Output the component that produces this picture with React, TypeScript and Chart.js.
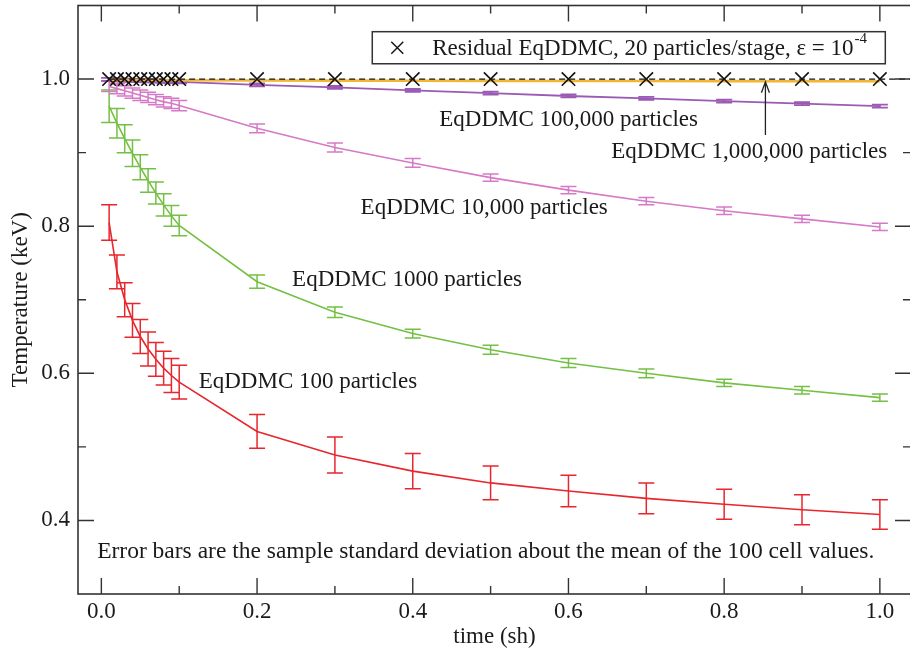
import React, { useEffect, useRef } from "react";
import { Chart, registerables } from "chart.js";

Chart.register(...registerables);

// ---- data ----
const times = [0.01, 0.02, 0.03, 0.04, 0.05, 0.06, 0.07, 0.08, 0.09, 0.1, 0.2, 0.3, 0.4, 0.5, 0.6, 0.7, 0.8, 0.9, 1.0];

const temp100 = [0.805, 0.738, 0.700, 0.672, 0.650, 0.633, 0.619, 0.607, 0.597, 0.588, 0.521, 0.489, 0.467, 0.451, 0.440, 0.430, 0.422, 0.4145, 0.408];
const err100 = [0.024, 0.023, 0.023, 0.023, 0.023, 0.023, 0.023, 0.023, 0.023, 0.023, 0.023, 0.0245, 0.024, 0.023, 0.0215, 0.021, 0.0205, 0.0205, 0.020];

const temp1000 = [0.963, 0.940, 0.919, 0.899, 0.880, 0.862, 0.845, 0.829, 0.814, 0.801, 0.7245, 0.683, 0.654, 0.632, 0.614, 0.600, 0.587, 0.577, 0.567];
const err1000 = [0.022, 0.020, 0.019, 0.018, 0.017, 0.016, 0.015, 0.015, 0.014, 0.014, 0.009, 0.007, 0.006, 0.006, 0.006, 0.006, 0.005, 0.005, 0.005];

const temp10k = [0.990, 0.987, 0.984, 0.981, 0.978, 0.975, 0.972, 0.969, 0.967, 0.964, 0.933, 0.907, 0.886, 0.866, 0.849, 0.834, 0.821, 0.810, 0.799];
const err10k = [0.007, 0.007, 0.007, 0.007, 0.007, 0.007, 0.007, 0.007, 0.007, 0.007, 0.006, 0.006, 0.006, 0.005, 0.005, 0.005, 0.005, 0.005, 0.005];

const temp100k = [0.9995, 0.999, 0.9987, 0.9983, 0.998, 0.9977, 0.9974, 0.997, 0.9967, 0.9963, 0.992, 0.9886, 0.9845, 0.981, 0.977, 0.9738, 0.970, 0.9665, 0.9632];
const err100k = [0.002, 0.002, 0.002, 0.002, 0.002, 0.002, 0.002, 0.002, 0.002, 0.002, 0.002, 0.002, 0.002, 0.002, 0.002, 0.002, 0.002, 0.002, 0.002];

const temp1M = [0.999, 0.9989, 0.9988, 0.9988, 0.9987, 0.9986, 0.9986, 0.9985, 0.9984, 0.9984, 0.9981, 0.9979, 0.9977, 0.9976, 0.9974, 0.9973, 0.9972, 0.9971, 0.997];

const residual = [1.0, 1.0, 1.0, 1.0, 1.0, 1.0, 1.0, 1.0, 1.0, 1.0, 1.0, 1.0, 1.0, 1.0, 1.0, 1.0, 1.0, 1.0, 1.0];

const unityX = [0.01, 1.04];
const unityY = [1.0, 1.0];

const xTicks = [0.0, 0.2, 0.4, 0.6, 0.8, 1.0];
const xMinor = [0.1, 0.3, 0.5, 0.7, 0.9];
const yTicks = [0.4, 0.6, 0.8, 1.0];
const yMinor = [0.5, 0.7, 0.9];

const FONT = '"Liberation Serif", "Times New Roman", serif';
const TEXT = "#1a1a1a";

// plot frame in canvas pixels (right edge lies just past the picture, as in the reference)
const AREA = { left: 78, right: 911, top: 5.5, bottom: 594 };

const pts = (xs: number[], ys: number[]) => xs.map((x, i) => ({ x, y: ys[i] }));

const areaPlugin = {
  id: "fixedArea",
  afterLayout(chart: any) {
    const a = chart.chartArea;
    a.left = AREA.left; a.right = AREA.right; a.top = AREA.top; a.bottom = AREA.bottom;
    a.width = AREA.right - AREA.left; a.height = AREA.bottom - AREA.top;
    const x = chart.scales.x;
    x.left = AREA.left; x.right = AREA.right; x.width = a.width;
    x.top = AREA.bottom; x.bottom = chart.height; x.height = chart.height - AREA.bottom;
    x.configure();
    const y = chart.scales.y;
    y.top = AREA.top; y.bottom = AREA.bottom; y.height = a.height;
    y.left = 0; y.right = AREA.left; y.width = AREA.left;
    y.configure();
  },
};

const errorBarPlugin = {
  id: "errorBars",
  afterDatasetDraw(chart: any, args: any) {
    const ds = chart.data.datasets[args.index];
    if (!ds.errors) return;
    const { ctx, scales, chartArea } = chart;
    const xs = scales.x, ys = scales.y;
    ctx.save();
    ctx.beginPath();
    ctx.rect(chartArea.left, chartArea.top, chartArea.right - chartArea.left, chartArea.bottom - chartArea.top);
    ctx.clip();
    ctx.strokeStyle = ds.borderColor;
    ctx.lineWidth = ds.errorWidth || 1.5;
    const cap = 8;
    ds.data.forEach((p: any, i: number) => {
      const e = ds.errors[i];
      const px = xs.getPixelForValue(p.x);
      const y1 = ys.getPixelForValue(p.y + e);
      const y2 = ys.getPixelForValue(p.y - e);
      ctx.beginPath();
      ctx.moveTo(px, y1); ctx.lineTo(px, y2);
      ctx.moveTo(px - cap, y1); ctx.lineTo(px + cap, y1);
      ctx.moveTo(px - cap, y2); ctx.lineTo(px + cap, y2);
      ctx.stroke();
    });
    ctx.restore();
  },
};

const framePlugin = {
  id: "frame",
  afterDraw(chart: any) {
    const { ctx, chartArea: a, scales } = chart;
    const xs = scales.x, ys = scales.y;
    ctx.save();
    ctx.strokeStyle = "#333";
    ctx.lineWidth = 1.6;
    ctx.strokeRect(a.left, a.top, a.right - a.left, a.bottom - a.top);
    ctx.lineWidth = 1.4;
    ctx.beginPath();
    const tick = (v: number, len: number) => {
      const p = xs.getPixelForValue(v);
      ctx.moveTo(p, a.bottom); ctx.lineTo(p, a.bottom - len);
      ctx.moveTo(p, a.top); ctx.lineTo(p, a.top + len);
    };
    const ytick = (v: number, len: number) => {
      const p = ys.getPixelForValue(v);
      ctx.moveTo(a.left, p); ctx.lineTo(a.left + len, p);
      ctx.moveTo(a.right, p); ctx.lineTo(a.right - len, p);
    };
    xTicks.forEach((v) => tick(v, 16));
    xMinor.forEach((v) => tick(v, 8));
    yTicks.forEach((v) => ytick(v, 16));
    yMinor.forEach((v) => ytick(v, 8));
    ctx.stroke();
    ctx.restore();
  },
};

const labelPlugin = {
  id: "labels",
  afterDraw(chart: any) {
    const { ctx, scales } = chart;
    const X = (v: number) => scales.x.getPixelForValue(v);
    const Y = (v: number) => scales.y.getPixelForValue(v);
    ctx.save();
    ctx.fillStyle = TEXT;
    ctx.textBaseline = "middle";
    ctx.textAlign = "left";
    ctx.font = `23px ${FONT}`;
    ctx.fillText("EqDDMC 100 particles", X(0.125), Y(0.588));
    ctx.fillText("EqDDMC 1000 particles", X(0.245), Y(0.727));
    ctx.fillText("EqDDMC 10,000 particles", X(0.333), Y(0.825));
    ctx.fillText("EqDDMC 100,000 particles", X(0.434), Y(0.9446));
    ctx.fillText("EqDDMC 1,000,000 particles", X(0.655), Y(0.9014));
    ctx.font = `23.5px ${FONT}`;
    ctx.fillText("Error bars are the sample standard deviation about the mean of the 100 cell values.", X(-0.0054), Y(0.3568));

    // arrow to the 1,000,000 curve
    ctx.strokeStyle = "#222";
    ctx.lineWidth = 1.3;
    const ax = X(0.853);
    const ay1 = Y(0.924), ay2 = Y(0.9963);
    ctx.beginPath();
    ctx.moveTo(ax, ay1); ctx.lineTo(ax, ay2);
    ctx.moveTo(ax - 4, ay2 + 11); ctx.lineTo(ax, ay2); ctx.lineTo(ax + 4, ay2 + 11);
    ctx.stroke();

    // legend box
    const l = X(0.348), r = X(1.007), t = Y(1.0644), b = Y(1.0208);
    ctx.fillStyle = "#fff";
    ctx.fillRect(l, t, r - l, b - t);
    ctx.strokeStyle = "#333";
    ctx.lineWidth = 1.5;
    ctx.strokeRect(l, t, r - l, b - t);
    const cy = (t + b) / 2;
    const cx = l + 25;
    ctx.lineWidth = 1.4;
    ctx.strokeStyle = "#111";
    ctx.beginPath();
    ctx.moveTo(cx - 6, cy - 6); ctx.lineTo(cx + 6, cy + 6);
    ctx.moveTo(cx - 6, cy + 6); ctx.lineTo(cx + 6, cy - 6);
    ctx.stroke();
    ctx.fillStyle = TEXT;
    ctx.font = `23px ${FONT}`;
    const main = "Residual EqDDMC, 20 particles/stage, \u03b5 = 10";
    const tx = l + 60;
    ctx.fillText(main, tx, cy + 1);
    const w = ctx.measureText(main).width;
    ctx.font = `15px ${FONT}`;
    ctx.fillText("-4", tx + w + 1, cy - 9);
    ctx.restore();
  },
};

export default function App() {
  const ref = useRef<HTMLCanvasElement | null>(null);
  useEffect(() => {
    if (!ref.current) return;
    const tickFont = { family: FONT, size: 23 };
    const chart = new Chart(ref.current, {
      type: "line",
      data: {
        datasets: [
          {
            label: "Residual EqDDMC, 20 particles/stage",
            data: pts(times, residual),
            showLine: false,
            pointStyle: "crossRot",
            pointRadius: 9.5,
            pointBorderWidth: 1.6,
            borderColor: "#111",
            backgroundColor: "#111",
          },
          {
            label: "unity",
            data: pts(unityX, unityY),
            borderColor: "#111",
            borderWidth: 1.3,
            borderDash: [6, 4],
            pointRadius: 0,
          },
          {
            label: "EqDDMC 1,000,000 particles",
            data: pts(times, temp1M),
            borderColor: "#f2b632",
            borderWidth: 2.6,
            pointRadius: 0,
          },
          {
            label: "EqDDMC 100,000 particles",
            data: pts(times, temp100k),
            errors: err100k,
            errorWidth: 1.8,
            borderColor: "#9b5ab4",
            borderWidth: 1.8,
            pointRadius: 0,
          } as any,
          {
            label: "EqDDMC 10,000 particles",
            data: pts(times, temp10k),
            errors: err10k,
            borderColor: "#d679c6",
            borderWidth: 1.6,
            pointRadius: 0,
          } as any,
          {
            label: "EqDDMC 1000 particles",
            data: pts(times, temp1000),
            errors: err1000,
            borderColor: "#74c044",
            borderWidth: 1.6,
            pointRadius: 0,
          } as any,
          {
            label: "EqDDMC 100 particles",
            data: pts(times, temp100),
            errors: err100,
            borderColor: "#e8262d",
            borderWidth: 1.6,
            pointRadius: 0,
          } as any,
        ],
      },
      options: {
        responsive: false,
        animation: false,
        events: [],
        layout: { padding: { top: 6, right: 0, left: 0, bottom: 0 } },
        plugins: { legend: { display: false }, tooltip: { enabled: false } },
        scales: {
          x: {
            type: "linear",
            min: -0.03,
            max: 1.04,
            afterBuildTicks: (s: any) => { s.ticks = xTicks.map((v) => ({ value: v })); },
            afterFit: (s: any) => { s.height = 57; s.paddingLeft = 0; s.paddingRight = 0; },
            ticks: { callback: (v: any) => Number(v).toFixed(1), font: tickFont, color: TEXT, padding: 4, maxRotation: 0, autoSkip: false },
            grid: { display: false, drawTicks: false },
            border: { display: false },
            title: { display: true, text: "time (sh)", font: tickFont, color: TEXT, padding: { top: 0, bottom: 0 } },
          },
          y: {
            type: "linear",
            min: 0.3,
            max: 1.1,
            afterBuildTicks: (s: any) => { s.ticks = yTicks.map((v) => ({ value: v })); },
            afterFit: (s: any) => { s.width = 78; s.paddingTop = 0; s.paddingBottom = 0; },
            ticks: { callback: (v: any) => Number(v).toFixed(1), font: tickFont, color: TEXT, padding: 8, autoSkip: false },
            grid: { display: false, drawTicks: false },
            border: { display: false },
            title: { display: true, text: "Temperature (keV)", font: tickFont, color: TEXT, padding: { top: 7, bottom: 0 } },
          },
        },
      } as any,
      plugins: [areaPlugin, errorBarPlugin, framePlugin, labelPlugin],
    });
    return () => chart.destroy();
  }, []);
  return (
    <div style={{ position: "fixed", left: 0, top: 0, width: 910, height: 651, background: "#fff" }}>
      <canvas ref={ref} width={910} height={651} style={{ display: "block" }} />
    </div>
  );
}
